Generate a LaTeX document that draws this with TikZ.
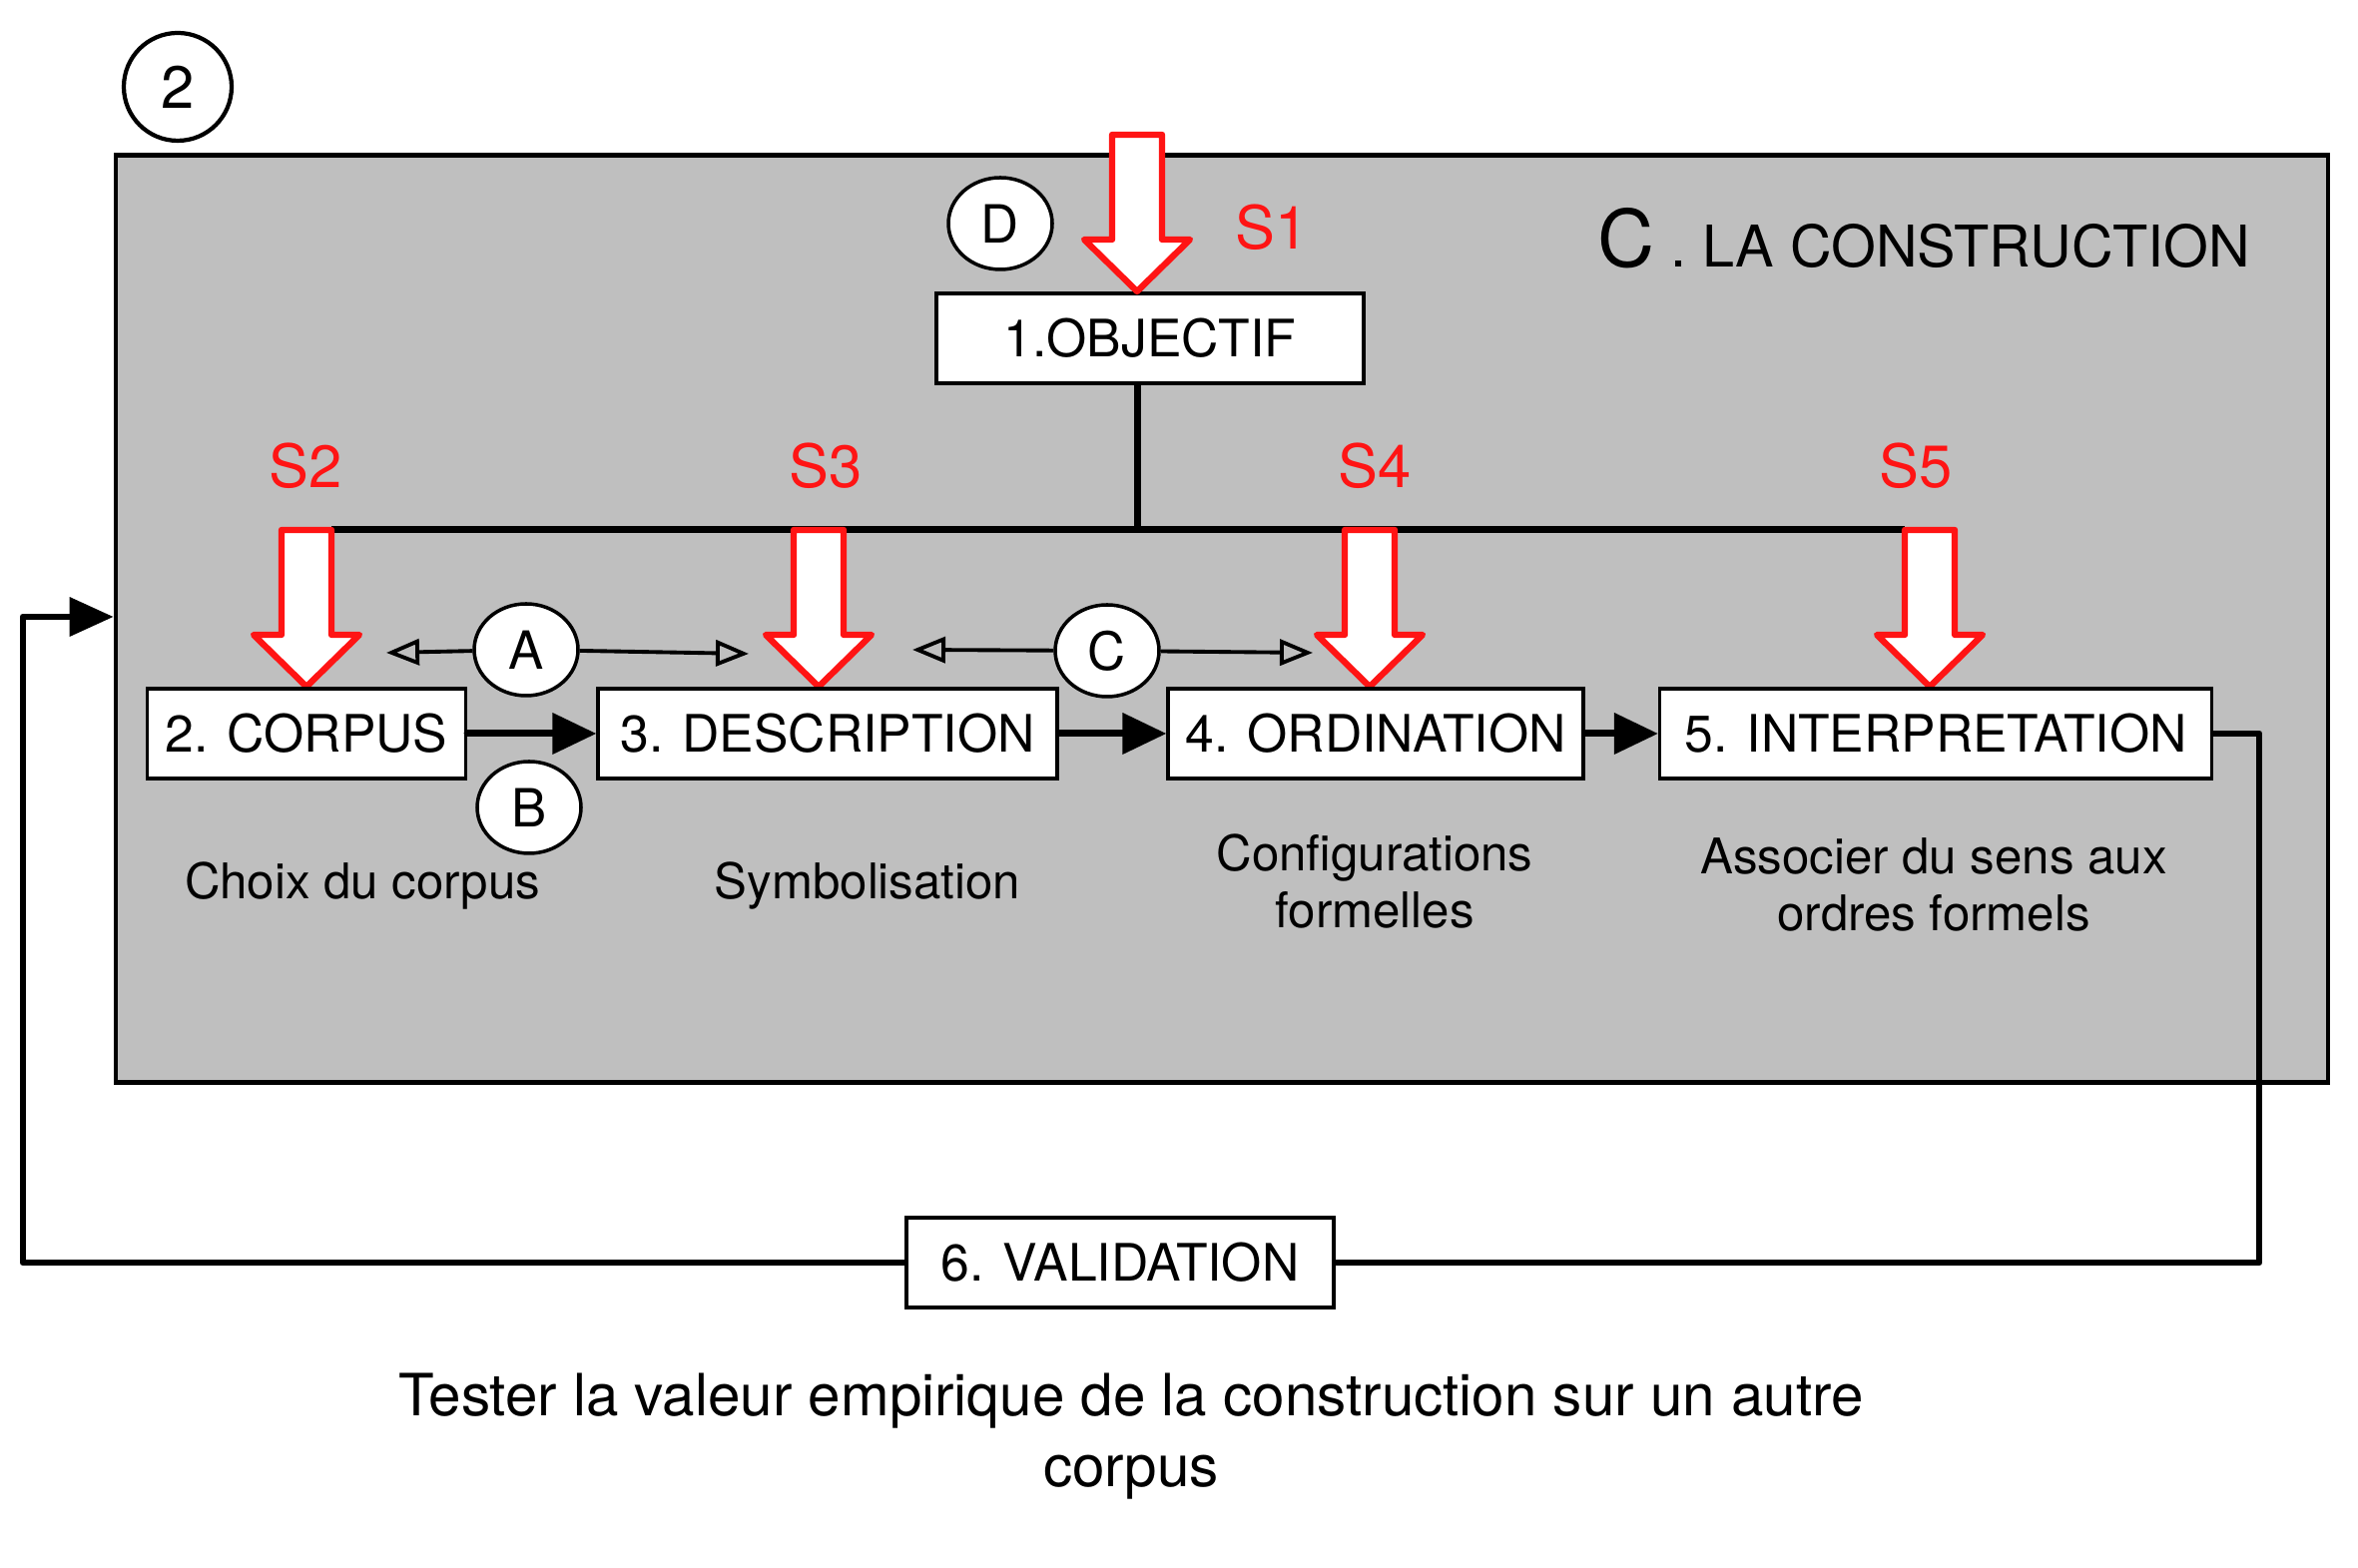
\documentclass[tikz,border=0pt]{standalone}
\usepackage{fontspec}
\setmainfont{TeX Gyre Heros}
\usepackage{tikz}
\usetikzlibrary{arrows.meta,shapes.geometric}

\definecolor{sred}{RGB}{255,20,20}
\definecolor{panel}{RGB}{191,191,191}

\begin{document}
\begin{tikzpicture}
[
  box/.style={draw,line width=0.9pt,fill=white,minimum height=0.9cm,inner sep=0pt,font=\fontsize{14.7}{17}\selectfont},
  tag/.style={ellipse,draw,line width=1pt,fill=white,minimum width=1.04cm,minimum height=0.92cm,inner sep=0pt,font=\fontsize{15}{18}\selectfont},
  redarrow/.style={draw=sred,line width=1.8pt,fill=white,line join=round},
  slabel/.style={text=sred,font=\fontsize{17}{20}\selectfont},
  note/.style={align=center,font=\fontsize{14}{16.2}\selectfont},
  bar/.style={line width=2pt},
  flow/.style={line width=2pt,line cap=round,-{Triangle[length=4.4mm,width=4mm]}},
  link/.style={line width=1.1pt,-{Triangle[open,length=3.3mm,width=2.6mm]}},
  loopline/.style={line width=1.9pt,line join=round,line cap=round}
]
\useasboundingbox (0,0) rectangle (23.62,15.71);

\node[circle,draw,line width=1.2pt,fill=white,minimum size=1.08cm,inner sep=0pt,font=\fontsize{17}{20}\selectfont] (num) at (1.78,14.84) {2};

\node[draw,line width=1.3pt,fill=panel,minimum width=22.16cm,minimum height=9.29cm,inner sep=0pt] (frame) at (12.24,9.51) {};

\node[anchor=base west,inner sep=0pt] (title) at (16.0,13.03) {{\fontsize{22.5}{26}\selectfont C}\fontsize{16.4}{20}\selectfont\ . LA CONSTRUCTION};

\node[box,minimum width=4.28cm] (obj) at (11.52,12.32) {1.OBJECTIF};
\node[tag] (D) at (10.02,13.47) {D};
\node[slabel] (s1) at (12.74,13.43) {S1};

\coordinate (junc) at (11.39,10.40);
\draw[bar] (obj.south -| junc) -- (junc);
\draw[bar] (3.32,10.40) -- (19.08,10.40);

\draw[redarrow] (11.39,12.79) -- ++(0.53,0.52) -- ++(-0.28,0) -- ++(0,1.05) -- ++(-0.5,0) -- ++(0,-1.05) -- ++(-0.28,0) -- cycle;
\draw[redarrow] (3.07,8.83) -- ++(0.53,0.52) -- ++(-0.28,0) -- ++(0,1.05) -- ++(-0.5,0) -- ++(0,-1.05) -- ++(-0.28,0) -- cycle;
\draw[redarrow] (8.20,8.83) -- ++(0.53,0.52) -- ++(-0.28,0) -- ++(0,1.05) -- ++(-0.5,0) -- ++(0,-1.05) -- ++(-0.28,0) -- cycle;
\draw[redarrow] (13.72,8.83) -- ++(0.53,0.52) -- ++(-0.28,0) -- ++(0,1.05) -- ++(-0.5,0) -- ++(0,-1.05) -- ++(-0.28,0) -- cycle;
\draw[redarrow] (19.33,8.83) -- ++(0.53,0.52) -- ++(-0.28,0) -- ++(0,1.05) -- ++(-0.5,0) -- ++(0,-1.05) -- ++(-0.28,0) -- cycle;

\node[slabel] (s2) at (3.06,11.04) {S2};
\node[slabel] (s3) at (8.27,11.04) {S3};
\node[slabel] (s4) at (13.77,11.04) {S4};
\node[slabel] (s5) at (19.19,11.04) {S5};

\node[box,minimum width=3.19cm] (corpus) at (3.07,8.36) {2. CORPUS};
\node[box,minimum width=4.6cm] (desc) at (8.29,8.36) {3. DESCRIPTION};
\node[box,minimum width=4.16cm] (ordin) at (13.78,8.36) {4. ORDINATION};
\node[box,minimum width=5.53cm] (interp) at (19.39,8.36) {5. INTERPRETATION};
\node[box,minimum width=4.28cm] (valid) at (11.22,3.06) {6. VALIDATION};

\node[tag] (A) at (5.27,9.20) {A};
\node[tag] (C) at (11.09,9.19) {C};
\node[tag] (B) at (5.30,7.62) {B};

\coordinate (aL) at (3.87,9.17);
\coordinate (aR) at (7.50,9.16);
\coordinate (cL) at (9.14,9.20);
\coordinate (cR) at (13.15,9.17);
\draw[link] (A) -- (aL);
\draw[link] (A) -- (aR);
\draw[link] (C) -- (cL);
\draw[link] (C) -- (cR);

\draw[flow] (corpus) -- (desc);
\draw[flow] (desc) -- (ordin);
\draw[flow] (ordin) -- (interp);

\coordinate (right) at (22.63,3.06);
\coordinate (left) at (0.23,9.53);
\draw[loopline] (interp) -| (right) |- (valid);
\draw[loopline,-{Triangle[length=4.4mm,width=3.8mm]}] (valid) -| (left) -- (left -| frame.west);

\node[note] (n2) at (3.63,6.83) {Choix du corpus};
\node[note] (n3) at (8.69,6.83) {Symbolisation};
\node[note] (n4) at (13.77,6.88) {Configurations\\formelles};
\node[note] (n5) at (19.37,6.85) {Associer du sens aux\\ordres formels};

\node[align=center,font=\fontsize{16.6}{20}\selectfont] (test) at (11.33,1.32) {Tester la valeur empirique de la construction sur un autre\\corpus};

\end{tikzpicture}
\end{document}
